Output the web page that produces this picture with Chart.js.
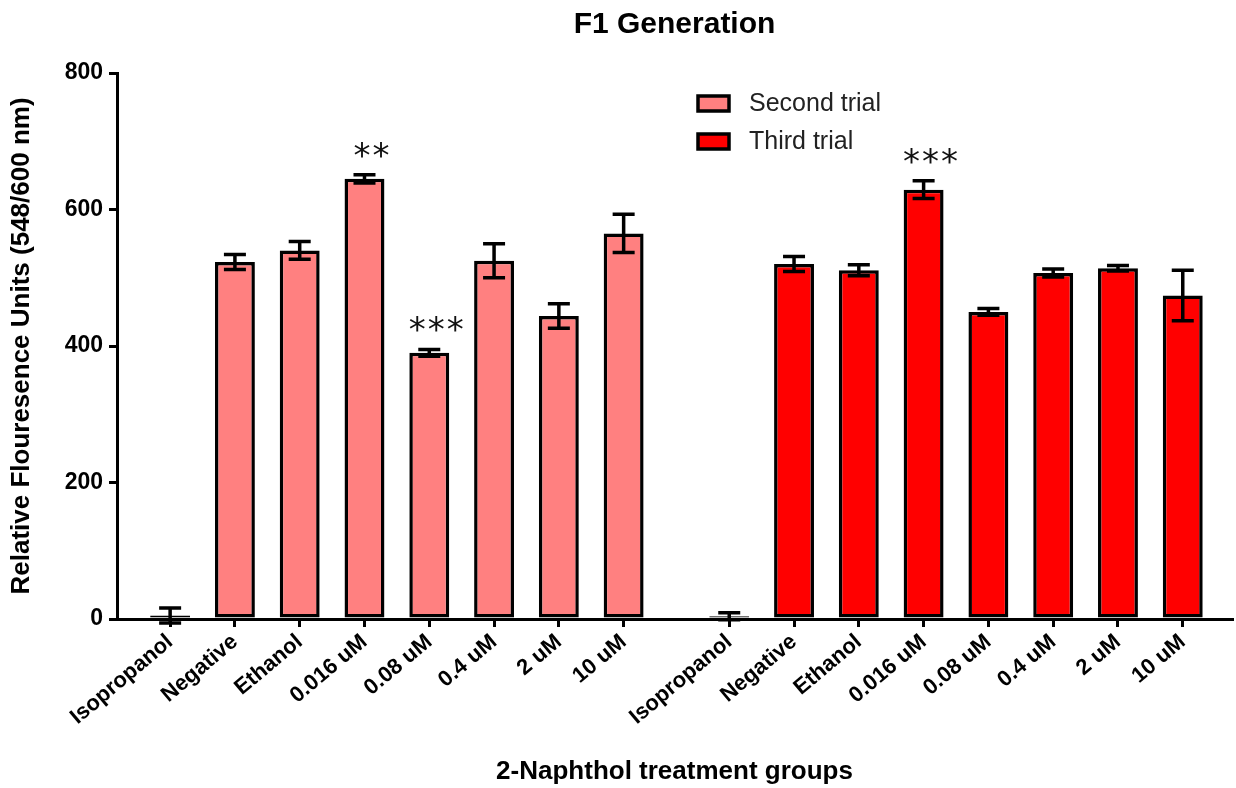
<!DOCTYPE html>
<html>
<head>
<meta charset="utf-8">
<script src="https://cdn.jsdelivr.net/npm/chart.js@4.4.1/dist/chart.umd.min.js"></script>
<style>
  html, body { margin: 0; padding: 0; background: #fff; }
  #wrap { width: 1236px; height: 788px; position: relative; }
</style>
</head>
<body>
<div id="wrap"><canvas id="grafico"></canvas></div>
<script>
// datos
const grupos = ["Isopropanol", "Negative", "Ethanol", "0.016 uM", "0.08 uM", "0.4 uM", "2 uM", "10 uM"];
const segundoMedia = [5, 523, 540, 645, 390, 525, 444, 565];
const segundoError = [11, 11, 13, 6, 5, 25, 18, 28];
const segundoSig = ["", "", "", "**", "***", "", "", ""];
const terceroMedia = [4, 520, 511, 629, 450, 507, 514, 474];
const terceroError = [5, 11, 8, 13, 5, 6, 4, 37];
const terceroSig = ["", "", "", "***", "", "", "", ""];
const ticksY = [0, 200, 400, 600, 800];

const FUENTE = "'Liberation Sans', Arial, sans-serif";
const SALTO = 8.63; // donde empieza el segundo grupo en el eje x

const posiciones = grupos.map((g, i) => i).concat(grupos.map((g, i) => i + SALTO));
const etiquetas = grupos.concat(grupos);

// barras de error + asteriscos
const pluginErrores = {
    id: 'errores',
    afterDatasetsDraw(chart) {
        const ctx = chart.ctx;
        const y = chart.scales.y;
        chart.data.datasets.forEach((ds, d) => {
            const meta = chart.getDatasetMeta(d);
            meta.data.forEach((bar, i) => {
                const v = ds.data[i].y;
                const e = ds.errores[i];
                const arriba = y.getPixelForValue(v + e);
                const abajo = y.getPixelForValue(v - e);
                ctx.save();
                ctx.strokeStyle = '#000';
                ctx.lineWidth = 3.5;
                ctx.beginPath();
                ctx.moveTo(bar.x, arriba);
                ctx.lineTo(bar.x, abajo);
                ctx.moveTo(bar.x - 11, arriba);
                ctx.lineTo(bar.x + 11, arriba);
                ctx.moveTo(bar.x - 11, abajo);
                ctx.lineTo(bar.x + 11, abajo);
                ctx.stroke();
                const sig = ds.sig[i];
                if (sig) {
                    ctx.fillStyle = '#111';
                    ctx.font = "34px 'DejaVu Sans'";
                    ctx.textAlign = 'center';
                    ctx.textBaseline = 'alphabetic';
                    const paso = 19;
                    const x0 = bar.x + 7 - paso * (sig.length - 1) / 2;
                    for (let k = 0; k < sig.length; k++) {
                        ctx.fillText('*', x0 + k * paso, arriba - 8);
                    }
                }
                ctx.restore();
            });
        });
    }
};

// titulo centrado sobre el area y leyenda dentro del area del grafico
const pluginLeyenda = {
    id: 'leyendaPropia',
    afterDraw(chart) {
        const ctx = chart.ctx;
        const area = chart.chartArea;
        ctx.save();
        ctx.fillStyle = '#000';
        ctx.font = "bold 30px " + FUENTE;
        ctx.textAlign = 'center';
        ctx.textBaseline = 'middle';
        ctx.fillText('F1 Generation', (area.left + area.right) / 2, 25);
        ctx.restore();
        chart.data.datasets.forEach((ds, d) => {
            const bx = area.left + 581;
            const by = area.top + 23 + d * 38;
            ctx.save();
            ctx.fillStyle = ds.backgroundColor;
            ctx.strokeStyle = '#000';
            ctx.lineWidth = 3.5;
            ctx.fillRect(bx, by, 31, 15);
            ctx.strokeRect(bx, by, 31, 15);
            ctx.fillStyle = '#222';
            ctx.font = "25px " + FUENTE;
            ctx.textAlign = 'left';
            ctx.textBaseline = 'middle';
            ctx.fillText(ds.label, bx + 51, by + 8);
            ctx.restore();
        });
    }
};

new Chart(document.getElementById('grafico'), {
    type: 'bar',
    data: {
        datasets: [{
            label: 'Second trial',
            data: segundoMedia.map((v, i) => ({x: i, y: v})),
            errores: segundoError,
            sig: segundoSig,
            backgroundColor: '#FF8080',
            borderColor: '#000',
            borderWidth: 3.5,
            borderSkipped: false
        },
        {
            label: 'Third trial',
            data: terceroMedia.map((v, i) => ({x: i + SALTO, y: v})),
            errores: terceroError,
            sig: terceroSig,
            backgroundColor: '#FF0000',
            borderColor: '#000',
            borderWidth: 3.5,
            borderSkipped: false
        }]
    },
    options: {
        responsive: true,
        maintainAspectRatio: false,
        animation: false,
        grouped: false,
        categoryPercentage: 0.7,
        barPercentage: 0.88,
        layout: {
            padding: {left: 0, right: 4, top: 73, bottom: 0}
        },
        plugins: {
            legend: {display: false},
            tooltip: {enabled: false},
            title: {display: false}
        },
        scales: {
            x: {
                type: 'linear',
                offset: false,
                min: -0.82,
                max: 16.39,
                afterBuildTicks: (eje) => {
                    eje.ticks = posiciones.map(p => ({value: p}));
                },
                afterFit: (eje) => { eje.height = 169; },
                ticks: {
                    autoSkip: false,
                    minRotation: 40,
                    maxRotation: 40,
                    padding: 2,
                    color: '#000',
                    font: {family: FUENTE, size: 22, weight: 'bold'},
                    callback: (valor, indice) => etiquetas[indice]
                },
                grid: {
                    offset: false,
                    drawOnChartArea: false,
                    drawTicks: true,
                    tickLength: 8,
                    color: '#000',
                    lineWidth: 3
                },
                border: {color: '#000', width: 3},
                title: {
                    display: true,
                    text: '2-Naphthol treatment groups',
                    color: '#000',
                    font: {family: FUENTE, size: 26, weight: 'bold'},
                    padding: {top: 0, bottom: 1}
                }
            },
            y: {
                min: 0,
                max: 800,
                afterBuildTicks: (eje) => {
                    eje.ticks = ticksY.map(v => ({value: v}));
                },
                afterFit: (eje) => { eje.width = 117; },
                ticks: {
                    padding: 6,
                    color: '#000',
                    font: {family: FUENTE, size: 23, weight: 'bold'}
                },
                grid: {
                    drawOnChartArea: false,
                    drawTicks: true,
                    tickLength: 8,
                    color: '#000',
                    lineWidth: 3
                },
                border: {color: '#000', width: 3},
                title: {
                    display: true,
                    text: 'Relative Flouresence Units (548/600 nm)',
                    color: '#000',
                    font: {family: FUENTE, size: 26, weight: 'bold'},
                    padding: {top: 6, bottom: 0}
                }
            }
        }
    },
    plugins: [pluginErrores, pluginLeyenda]
});
</script>
</body>
</html>
